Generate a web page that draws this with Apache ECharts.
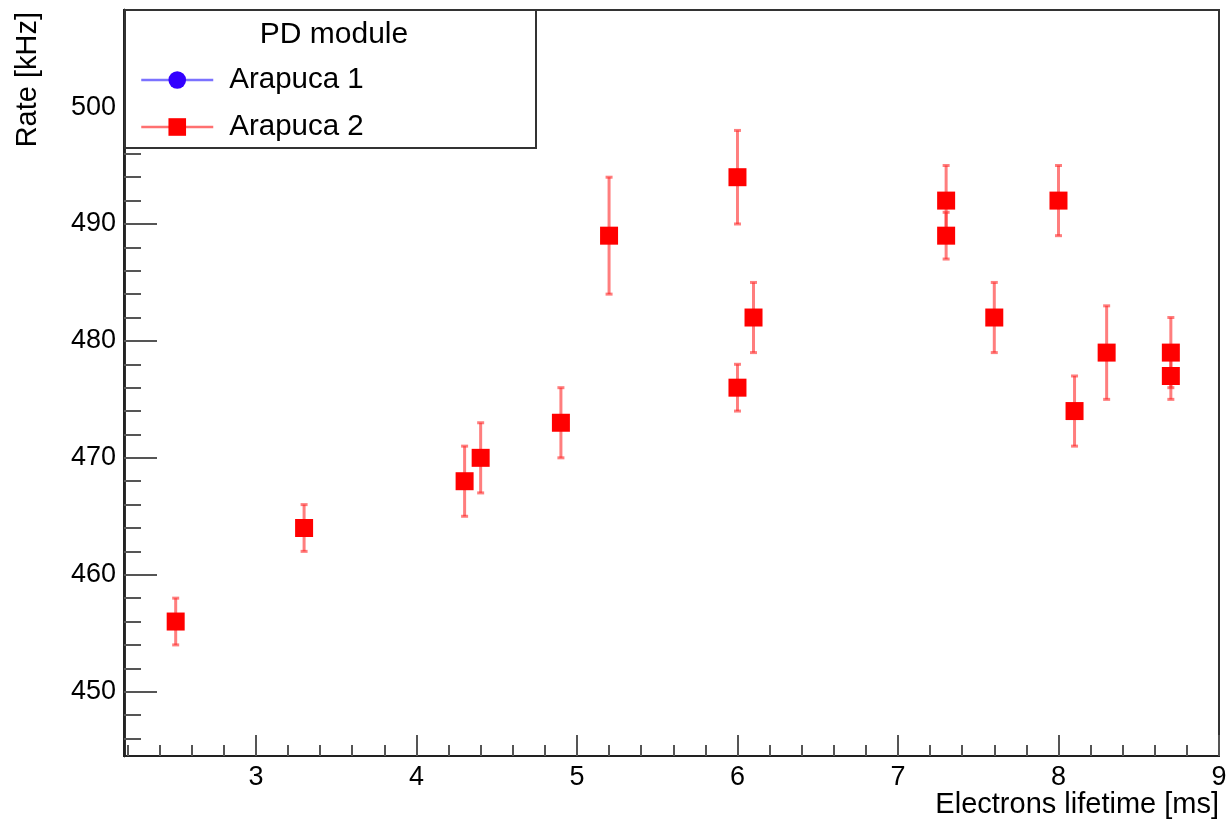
<!DOCTYPE html>
<html>
<head>
<meta charset="utf-8">
<script src="https://cdn.jsdelivr.net/npm/echarts@6/dist/echarts.min.js"></script>
<style>
  html, body { margin: 0; padding: 0; background: #fff; }
  #chart { width: 1228px; height: 829px; }
</style>
</head>
<body>
<div id="chart"></div>
<script>
// Photon-detector rate vs. electron lifetime
const lifetime = [2.5, 3.3, 4.3, 4.4, 4.9, 5.2, 6.0, 6.0, 6.1, 7.3, 7.3, 7.6, 8.0, 8.1, 8.3, 8.7, 8.7];
const rate     = [456, 464, 468, 470, 473, 489, 494, 476, 482, 492, 489, 482, 492, 474, 479, 479, 477];
const rateErr  = [2, 2, 3, 3, 3, 5, 4, 2, 3, 3, 2, 3, 3, 3, 4, 3, 2];

const xRange = [2.178, 9];
const yRange = [444.5, 508.3];
const xMajor = [3, 4, 5, 6, 7, 8, 9];
const xMinor = [2.2, 2.4, 2.6, 2.8, 3.2, 3.4, 3.6, 3.8, 4.2, 4.4, 4.6, 4.8, 5.2, 5.4, 5.6, 5.8,
                6.2, 6.4, 6.6, 6.8, 7.2, 7.4, 7.6, 7.8, 8.2, 8.4, 8.6, 8.8];
const yMajor = [450, 460, 470, 480, 490, 500];
const yMinor = [446, 448, 452, 454, 456, 458, 462, 464, 466, 468, 472, 474, 476, 478,
                482, 484, 486, 488, 492, 494, 496, 498, 502, 504, 506, 508];

const FONT = '"Liberation Sans", Arial, Helvetica, sans-serif';
const AXIS_COLOR = '#222';
const TICK_COLOR = '#555';

const points = lifetime.map((x, i) => [x, rate[i]]);
const errData = lifetime.map((x, i) => [x, rate[i] - rateErr[i], rate[i] + rateErr[i]]);

function baseX(extra) {
  return Object.assign({
    type: 'value', gridIndex: 0, position: 'bottom',
    min: xRange[0], max: xRange[1],
    splitLine: { show: false },
    axisLine: { show: true, onZero: false, lineStyle: { color: AXIS_COLOR, width: 2 } }
  }, extra);
}
function baseY(extra) {
  return Object.assign({
    type: 'value', gridIndex: 0, position: 'left',
    min: yRange[0], max: yRange[1],
    splitLine: { show: false },
    axisLine: { show: true, onZero: false, lineStyle: { color: AXIS_COLOR, width: 2.5 } }
  }, extra);
}

const chart = echarts.init(document.getElementById('chart'), null, { renderer: 'canvas' });

chart.setOption({
  animation: false,
  backgroundColor: '#fff',
  grid: {
    left: 124, right: 9, top: 10, bottom: 73,
    containLabel: false, outerBoundsMode: 'none',
    show: true, borderColor: '#333', borderWidth: 2, backgroundColor: 'transparent'
  },
  xAxis: [
    baseX({
      name: 'Electrons lifetime [ms]',
      nameLocation: 'end', nameGap: 0, nameMoveOverlap: false,
      nameTextStyle: {
        fontFamily: FONT, fontSize: 29, color: '#000',
        align: 'right', verticalAlign: 'top', padding: [34, 0, 0, 0]
      },
      axisTick: { show: true, inside: true, length: 21, customValues: xMajor,
                  lineStyle: { color: TICK_COLOR, width: 2 } },
      axisLabel: { show: true, customValues: xMajor, margin: 8,
                   fontFamily: FONT, fontSize: 27, color: '#000' }
    }),
    baseX({
      axisTick: { show: true, inside: true, length: 11, customValues: xMinor,
                  lineStyle: { color: TICK_COLOR, width: 2 } },
      axisLabel: { show: false }
    })
  ],
  yAxis: [
    baseY({
      name: 'Rate [kHz]',
      nameLocation: 'end', nameGap: -2, nameRotate: 90, nameMoveOverlap: false,
      nameTextStyle: {
        fontFamily: FONT, fontSize: 29, color: '#000',
        align: 'right', verticalAlign: 'bottom', padding: [0, 0, 82, 0]
      },
      axisTick: { show: true, inside: true, length: 33, customValues: yMajor,
                  lineStyle: { color: TICK_COLOR, width: 2 } },
      axisLabel: { show: true, customValues: yMajor, margin: 8,
                   fontFamily: FONT, fontSize: 27, color: '#000' }
    }),
    baseY({
      axisTick: { show: true, inside: true, length: 17, customValues: yMinor,
                  lineStyle: { color: TICK_COLOR, width: 2 } },
      axisLabel: { show: false }
    })
  ],
  legend: {
    z: 100,
    orient: 'vertical',
    left: 135, top: 60,
    itemWidth: 72, itemHeight: 22, itemGap: 17,
    textStyle: { fontFamily: FONT, fontSize: 29.5, color: '#000', padding: [0, 0, 0, 11] },
    data: [
      { name: 'Arapuca 1', lineStyle: { color: '#7b72ff', width: 2.5, opacity: 1 } },
      { name: 'Arapuca 2', lineStyle: { color: '#ff7070', width: 2.5, opacity: 1 } }
    ]
  },
  graphic: [
    {
      type: 'rect', z: 90,
      shape: { x: 125, y: 10, width: 411, height: 138 },
      style: { fill: '#fff', stroke: '#333', lineWidth: 2 }
    },
    {
      type: 'text', z: 91,
      x: 334, y: 35,
      style: { text: 'PD module', font: '30px ' + FONT, fill: '#000',
               textAlign: 'center', textVerticalAlign: 'middle' }
    }
  ],
  series: [
    {
      name: 'Arapuca 1', type: 'line', data: [],
      symbol: 'circle', symbolSize: 18,
      itemStyle: { color: '#3300ff' },
      lineStyle: { color: '#7b72ff', width: 2.5 }
    },
    {
      name: 'Arapuca 2 errors', type: 'custom', z: 1,
      data: errData,
      renderItem: function (params, api) {
        const x = api.value(0);
        const lo = api.coord([x, api.value(1)]);
        const hi = api.coord([x, api.value(2)]);
        const capW = 7;
        const style = { stroke: 'rgba(255,40,40,0.6)', lineWidth: 3 };
        return {
          type: 'group',
          children: [
            { type: 'line', shape: { x1: lo[0], y1: lo[1], x2: hi[0], y2: hi[1] }, style: style },
            { type: 'line', shape: { x1: lo[0] - capW / 2, y1: lo[1], x2: lo[0] + capW / 2, y2: lo[1] }, style: style },
            { type: 'line', shape: { x1: hi[0] - capW / 2, y1: hi[1], x2: hi[0] + capW / 2, y2: hi[1] }, style: style }
          ]
        };
      }
    },
    {
      name: 'Arapuca 2', type: 'line', z: 3,
      data: points,
      symbol: 'rect', symbolSize: 18, showSymbol: true,
      itemStyle: { color: '#ff0000', opacity: 1 },
      lineStyle: { color: '#ff7070', width: 2.5, opacity: 0 }
    }
  ]
});
</script>
</body>
</html>
